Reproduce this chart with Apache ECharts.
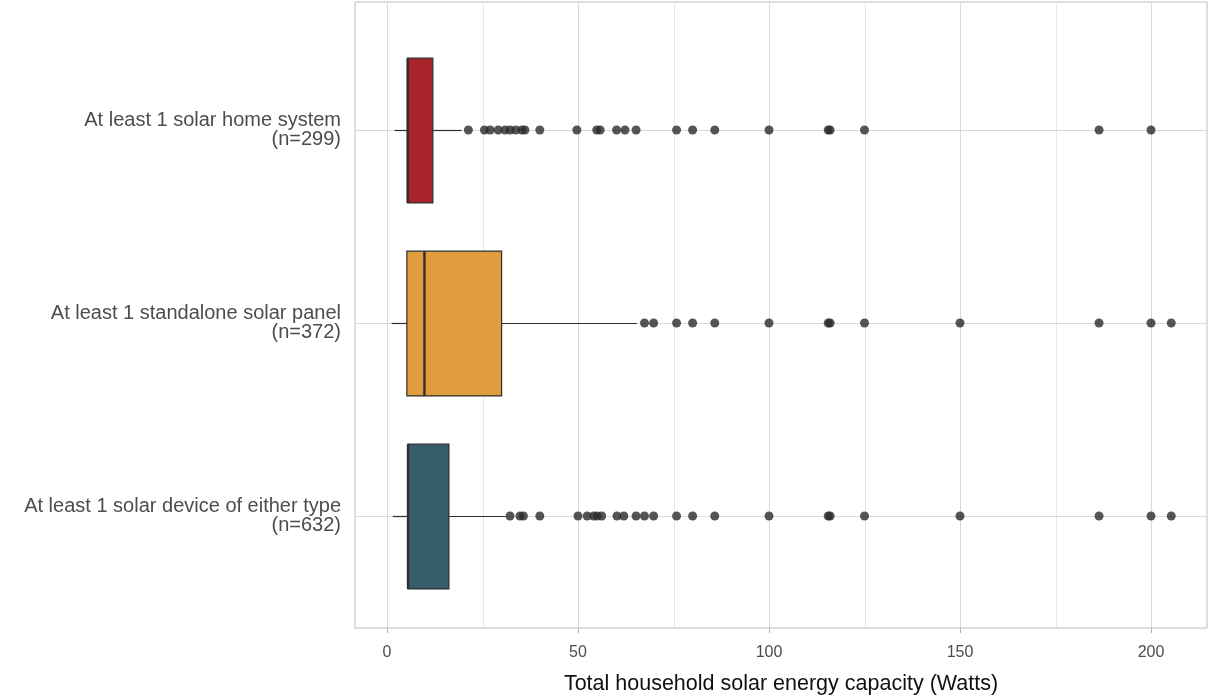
<!DOCTYPE html>
<html>
<head>
<meta charset="utf-8">
<script src="https://cdn.jsdelivr.net/npm/echarts@6/dist/echarts.min.js"></script>
<style>
  html, body { margin: 0; padding: 0; background: #fff; }
  #chart { width: 1208px; height: 698px; }
</style>
</head>
<body>
<div id="chart"></div>
<script>
// Device groups and sample sizes (top to bottom)
const groupNames = [
  'At least 1 solar home system',
  'At least 1 standalone solar panel',
  'At least 1 solar device of either type'
];
const sampleSizes = [299, 372, 632];

// Box statistics: [lower whisker, Q1, median, Q3, upper whisker] in Watts
const homeStats = [2, 5.4, 5.4, 12, 19.5];
const panelStats = [1.2, 5.2, 9.8, 30, 65.4];
const eitherStats = [1.5, 5.5, 5.5, 16.2, 31];

// Outlying households (Watts)
const homeOutliers = [21.3, 25.5, 27, 29.1, 30.9, 32.2, 33.7, 35.3, 36.1, 40, 49.7, 54.9, 55.8, 60.1, 62.3, 65.2,
  75.8, 80, 85.8, 100, 115.5, 116, 125, 186.4, 200];
const panelOutliers = [67.4, 69.8, 75.8, 80, 85.8, 100, 115.5, 116, 125, 150, 186.4, 200, 205.3];
const eitherOutliers = [32.2, 34.8, 35.7, 40, 50, 52.4, 54.1, 55, 56.2, 60.2, 62, 65.2, 67.4, 69.8,
  75.8, 80, 85.8, 100, 115.5, 116, 125, 150, 186.4, 200, 205.3];

// Axis ticks
const xTicks = [0, 50, 100, 150, 200];
const xMinorTicks = [25, 75, 125, 175];
const xMin = -8.38;
const xMax = 214.66;

const fillColors = ['#a8232a', '#e09c3f', '#365d69'];
const inkColor = '#2e2e2e';
const fontFamily = '"Liberation Sans", Arial, sans-serif';

const boxData = [homeStats, panelStats, eitherStats].map((s, i) => [i, ...s]);
const outlierData = [];
[homeOutliers, panelOutliers, eitherOutliers].forEach((arr, i) => {
  arr.forEach(v => outlierData.push([v, i]));
});
const gridLineData = xTicks.map(v => [v, 1]).concat(xMinorTicks.map(v => [v, 0]));

const chart = echarts.init(document.getElementById('chart'), null, { renderer: 'canvas' });

const option = {
  animation: false,
  backgroundColor: '#ffffff',
  grid: [
    { // panel frame + vertical grid
      left: 355, right: 1, top: 2, bottom: 70, outerBoundsMode: 'none', containLabel: false,
      show: true, borderColor: '#bdbdbd', borderWidth: 1, backgroundColor: 'transparent', z: 0
    },
    { // boxes
      left: 355, right: 1, top: 33.5, height: 579, outerBoundsMode: 'none', containLabel: false
    }
  ],
  xAxis: [
    {
      gridIndex: 0, type: 'value', min: xMin, max: xMax,
      axisLine: { show: false },
      splitLine: { show: false },
      axisTick: { show: true, length: 5, customValues: xTicks, lineStyle: { color: '#b3b3b3' } },
      axisLabel: {
        customValues: xTicks, color: '#4d4d4d', fontSize: 16, margin: 17, fontFamily
      },
      name: 'Total household solar energy capacity (Watts)',
      nameLocation: 'middle', nameGap: 45,
      nameTextStyle: { color: '#111', fontSize: 21.5, fontFamily }
    },
    {
      gridIndex: 1, type: 'value', min: xMin, max: xMax, show: false
    }
  ],
  yAxis: [
    { gridIndex: 0, type: 'value', min: 0, max: 1, show: false },
    {
      gridIndex: 1, type: 'category', inverse: true,
      data: groupNames,
      axisLine: { show: false },
      splitLine: { show: false },
      axisTick: { show: true, alignWithLabel: true, length: 5, lineStyle: { color: '#b3b3b3' } },
      axisLabel: {
        color: '#4d4d4d', fontSize: 20, lineHeight: 18.5, margin: 14, fontFamily, align: 'right',
        formatter: (name, idx) => name + '\n(n=' + sampleSizes[idx] + ')'
      }
    }
  ],
  series: [
    { // vertical grid lines (major and minor)
      type: 'custom', xAxisIndex: 0, yAxisIndex: 0, z: 1, silent: true,
      data: gridLineData,
      encode: { x: 0 },
      renderItem: (params, api) => {
        const v = api.value(0);
        const major = api.value(1) === 1;
        const p0 = api.coord([v, 0]);
        const p1 = api.coord([v, 1]);
        return {
          type: 'line',
          shape: { x1: Math.round(p0[0]) + 0.5, y1: p0[1], x2: Math.round(p1[0]) + 0.5, y2: p1[1] },
          style: { stroke: major ? '#d9d9d9' : '#e6e6e6', lineWidth: 1 }
        };
      }
    },
    { // horizontal grid lines at each group
      type: 'custom', xAxisIndex: 1, yAxisIndex: 1, z: 1, silent: true,
      data: groupNames.map((n, i) => [i]),
      encode: { y: 0 },
      renderItem: (params, api) => {
        const i = api.value(0);
        const p0 = api.coord([xMin, i]);
        const p1 = api.coord([xMax, i]);
        const y = Math.round(p0[1]) + 0.5;
        return {
          type: 'line',
          shape: { x1: p0[0], y1: y, x2: p1[0], y2: y },
          style: { stroke: '#d9d9d9', lineWidth: 1 }
        };
      }
    },
    { // box, whiskers and median
      type: 'custom', xAxisIndex: 1, yAxisIndex: 1, z: 2,
      data: boxData,
      encode: { x: [1, 2, 3, 4, 5], y: 0 },
      renderItem: (params, api) => {
        const i = api.value(0);
        const pMin = api.coord([api.value(1), i]);
        const pQ1 = api.coord([api.value(2), i]);
        const pMed = api.coord([api.value(3), i]);
        const pQ3 = api.coord([api.value(4), i]);
        const pMax = api.coord([api.value(5), i]);
        const h = api.size([0, 1])[1] * 0.75;
        const y = Math.round(pQ1[1]) + 0.5;
        return {
          type: 'group',
          children: [
            { type: 'line', shape: { x1: pMin[0], y1: y, x2: pQ1[0], y2: y },
              style: { stroke: inkColor, lineWidth: 1.2 } },
            { type: 'line', shape: { x1: pQ3[0], y1: y, x2: pMax[0], y2: y },
              style: { stroke: inkColor, lineWidth: 1.2 } },
            { type: 'rect', shape: { x: pQ1[0], y: y - h / 2, width: pQ3[0] - pQ1[0], height: h },
              style: { fill: fillColors[i], stroke: inkColor, lineWidth: 1.2 } },
            { type: 'line', shape: { x1: pMed[0], y1: y - h / 2, x2: pMed[0], y2: y + h / 2 },
              style: { stroke: inkColor, lineWidth: 2.4 } }
          ]
        };
      }
    },
    { // outliers
      type: 'scatter', xAxisIndex: 1, yAxisIndex: 1, z: 3,
      data: outlierData,
      symbol: 'circle', symbolSize: 9,
      itemStyle: { color: '#2b2b2b' }
    }
  ]
};

chart.setOption(option);
</script>
</body>
</html>
